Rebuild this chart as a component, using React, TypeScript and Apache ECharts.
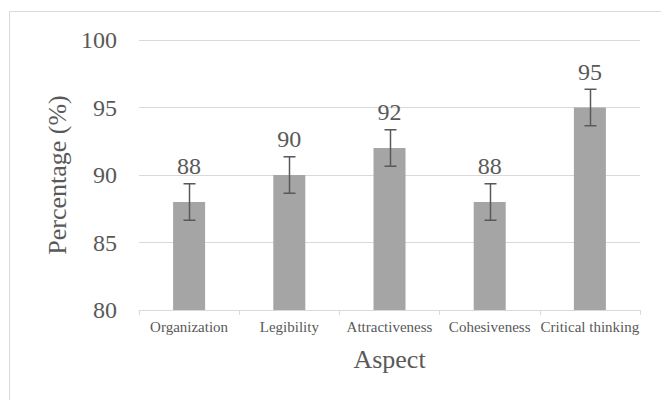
import React, { useEffect, useRef } from "react";
import * as echarts from "echarts";

const categories = ["Organization", "Legibility", "Attractiveness", "Cohesiveness", "Critical thinking"];
const values = [88, 90, 92, 88, 95];
const errors = [1.35, 1.35, 1.35, 1.35, 1.35];
const yTicks = { min: 80, max: 100, interval: 5 };
const xTitle = "Aspect";
const yTitle = "Percentage (%)";

const FONT = "'Liberation Serif', 'Times New Roman', serif";
const TEXT = "#595959";

export default function App() {
  const ref = useRef<HTMLDivElement>(null);
  useEffect(() => {
    document.body.style.margin = "0";
    const chart = echarts.init(ref.current!, null, { renderer: "svg" });
    chart.setOption({
      animation: false,
      backgroundColor: "#ffffff",
      textStyle: { fontFamily: FONT },
      graphic: [
        {
          type: "rect",
          shape: { x: 9.5, y: 11.5, width: 700, height: 500 },
          style: { fill: "none", stroke: "#d9d9d9", lineWidth: 1 },
          silent: true,
          z: -1,
        },
      ],
      grid: { left: 139, right: 21, top: 40, bottom: 90, containLabel: false },
      xAxis: {
        type: "category",
        data: categories,
        name: xTitle,
        nameLocation: "middle",
        nameGap: 36,
        nameTextStyle: { fontFamily: FONT, fontSize: 26, color: TEXT },
        axisLine: { lineStyle: { color: "#d9d9d9", width: 1 } },
        axisTick: { show: true, length: 5, lineStyle: { color: "#d9d9d9" } },
        axisLabel: { fontFamily: FONT, fontSize: 15, color: TEXT, margin: 9, interval: 0 },
      },
      yAxis: {
        type: "value",
        min: yTicks.min,
        max: yTicks.max,
        interval: yTicks.interval,
        name: yTitle,
        nameLocation: "middle",
        nameGap: 65,
        nameTextStyle: { fontFamily: FONT, fontSize: 26, color: TEXT },
        axisLine: { show: false },
        axisTick: { show: false },
        axisLabel: { fontFamily: FONT, fontSize: 24, color: TEXT, margin: 22 },
        splitLine: { lineStyle: { color: "#d9d9d9", width: 1 } },
      },
      series: [
        {
          type: "bar",
          data: values,
          barWidth: 32,
          itemStyle: { color: "#a5a5a5" },
          label: {
            show: true,
            position: "top",
            distance: 24,
            fontFamily: FONT,
            fontSize: 24,
            color: TEXT,
          },
          z: 2,
        },
        {
          type: "custom",
          data: values.map((v, i) => [i, v - errors[i], v + errors[i]]),
          z: 3,
          renderItem: (params: any, api: any) => {
            const i = api.value(0);
            const lo = api.coord([i, api.value(1)]);
            const hi = api.coord([i, api.value(2)]);
            const x = Math.round(lo[0]) + 0.5;
            const hw = 6;
            const style = { stroke: "#595959", lineWidth: 1.5 };
            return {
              type: "group",
              children: [
                { type: "line", shape: { x1: x, y1: hi[1], x2: x, y2: lo[1] }, style },
                { type: "line", shape: { x1: x - hw, y1: hi[1], x2: x + hw, y2: hi[1] }, style },
                { type: "line", shape: { x1: x - hw, y1: lo[1], x2: x + hw, y2: lo[1] }, style },
              ],
            };
          },
        },
      ],
    });
    return () => chart.dispose();
  }, []);
  return <div ref={ref} style={{ width: 661, height: 400 }} />;
}
